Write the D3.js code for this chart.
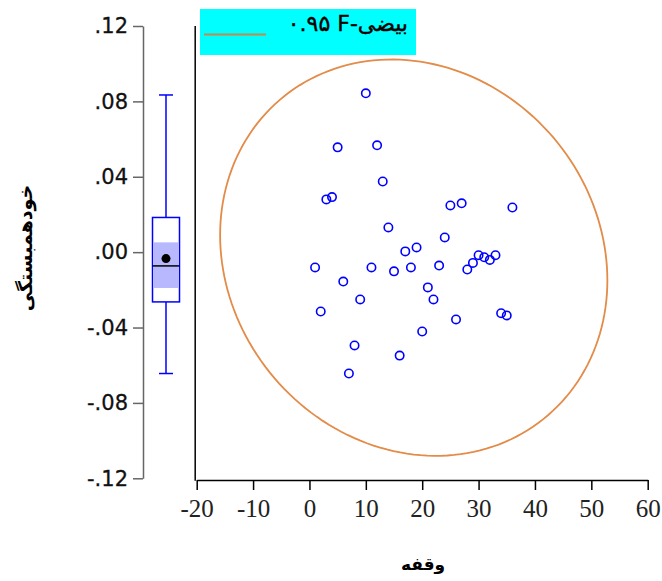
<!DOCTYPE html>
<html><head><meta charset="utf-8">
<script src="https://cdn.jsdelivr.net/npm/d3@7"></script>
<style>body{margin:0;background:#fff}svg{display:block}</style>
</head><body>
<script>
// ---- data ----
const lags = [1,2,3,4,5,6,7,8,9,10,11,12,13,14,15,16,17,18,19,20,21,22,23,24,25,26,27,28,29,30,31,32,33,34,35,36];
const acf = [-0.0081,-0.0315,0.0280,0.0292,0.0556,-0.0156,-0.0644,-0.0495,-0.0251,0.0843,
             -0.0081,0.0567,0.0375,0.0131,-0.0102,-0.0549,0.0004,-0.0081,0.0025,-0.0421,
             -0.0187,-0.0251,-0.0071,0.0078,0.0248,-0.0357,0.0259,-0.0092,-0.0057,-0.0016,
             -0.0027,-0.0041,-0.0016,-0.0324,-0.0336,0.0237];
const boxKeys = ["min","q1","median","q3","max","mean","ciLow","ciHigh"];
const boxVals = [-0.0644,-0.0264,-0.0073,0.0184,0.0834,-0.0034,-0.0190,0.0052];
const yTicks = [-0.12,-0.08,-0.04,0,0.04,0.08,0.12];
const yTickLabels = ["-.12","-.08","-.04",".00",".04",".08",".12"];
const xTicks = [-20,-10,0,10,20,30,40,50,60];
const xTickLabels = ["-20","-10","0","10","20","30","40","50","60"];
const ellipseScale = 3.26;
const legendLabel = "بیضی-F\u200F ۰.۹۵";
const xTitle = "وقفه";
const yTitle = "خودهمبستگی";

const W = 662, H = 581;
const svg = d3.select("body").append("svg").attr("width", W).attr("height", H);

const y = d3.scaleLinear().domain([-0.12, 0.12]).range([478.3, 26]);
const x = d3.scaleLinear().domain([-20, 60]).range([196.7, 647.7]);

const orange = "#e38b48";
const blue = "#0000ff";

// ---- box plot axis ----
const yAxis = d3.axisLeft(y).tickValues(yTicks)
  .tickFormat((d,i) => yTickLabels[i]).tickSize(10).tickSizeOuter(0).tickPadding(5);
const gy = svg.append("g").attr("transform", "translate(143,0)").call(yAxis);
gy.selectAll("path,line").attr("stroke", "#666").attr("stroke-width", 1.5);
gy.selectAll("text").attr("font-family", "DejaVu Sans").attr("font-size", 21).attr("fill", "#111")
  .attr("stroke", "#111").attr("stroke-width", 0.3);

// ---- box plot ----
const b = {}; boxKeys.forEach((k,i) => b[k] = boxVals[i]);
const bx = 166, bw = 27, cw = 14;
const gb = svg.append("g");
gb.append("line").attr("x1", bx).attr("x2", bx).attr("y1", y(b.max)).attr("y2", y(b.q3)).attr("stroke", blue).attr("stroke-width", 1.5);
gb.append("line").attr("x1", bx).attr("x2", bx).attr("y1", y(b.q1)).attr("y2", y(b.min)).attr("stroke", blue).attr("stroke-width", 1.5);
gb.append("line").attr("x1", bx-cw/2).attr("x2", bx+cw/2).attr("y1", y(b.max)).attr("y2", y(b.max)).attr("stroke", blue).attr("stroke-width", 1.5);
gb.append("line").attr("x1", bx-cw/2).attr("x2", bx+cw/2).attr("y1", y(b.min)).attr("y2", y(b.min)).attr("stroke", blue).attr("stroke-width", 1.5);
gb.append("rect").attr("x", bx-bw/2).attr("y", y(b.q3)).attr("width", bw).attr("height", y(b.q1)-y(b.q3))
  .attr("fill", "#fff").attr("stroke", blue).attr("stroke-width", 1.5);
gb.append("rect").attr("x", bx-bw/2+1).attr("y", y(b.ciHigh)).attr("width", bw-2).attr("height", y(b.ciLow)-y(b.ciHigh))
  .attr("fill", "#b8b8ff");
gb.append("line").attr("x1", bx-bw/2).attr("x2", bx+bw/2).attr("y1", y(b.median)).attr("y2", y(b.median)).attr("stroke", "#000").attr("stroke-width", 1.5);
gb.append("circle").attr("cx", bx).attr("cy", y(b.mean)).attr("r", 4.5).attr("fill", "#000");

// ---- main axes ----
const xAxis = d3.axisBottom(x).tickValues(xTicks).tickFormat((d,i) => xTickLabels[i])
  .tickSize(10).tickSizeOuter(0).tickPadding(9);
const gx = svg.append("g").attr("transform", "translate(0,480)").call(xAxis);
gx.selectAll("path,line").attr("stroke", "#000").attr("stroke-width", 1.5);
gx.selectAll("text").attr("font-family", "Liberation Serif").attr("font-size", 25).attr("fill", "#222");
svg.append("line").attr("x1", x(-20)-1.5).attr("x2", x(-20)-1.5).attr("y1", y(0.12)).attr("y2", 480.7)
  .attr("stroke", "#000").attr("stroke-width", 1.5);

// ---- ellipse (derived from data) ----
const mx = d3.mean(lags), my = d3.mean(acf);
const sx = d3.deviation(lags), sy = d3.deviation(acf);
const cov = d3.sum(lags.map((l,i) => (l-mx)*(acf[i]-my))) / (lags.length-1);
const r = cov / (sx*sy);
const angles = d3.range(0, 361, 2).map(a => a*Math.PI/180);
const ell = angles.map(t => [mx + ellipseScale*sx*Math.cos(t),
  my + ellipseScale*sy*(r*Math.cos(t) + Math.sqrt(1-r*r)*Math.sin(t))]);
svg.append("path").datum(ell)
  .attr("d", d3.line().x(d => x(d[0])).y(d => y(d[1])))
  .attr("fill", "none").attr("stroke", orange).attr("stroke-width", 1.8);

// ---- points ----
svg.append("g").selectAll("circle").data(lags).join("circle")
  .attr("cx", d => x(d)).attr("cy", (d,i) => y(acf[i])).attr("r", 4.2)
  .attr("fill", "none").attr("stroke", blue).attr("stroke-width", 1.6);

// ---- legend ----
svg.append("rect").attr("x", 200).attr("y", 9).attr("width", 216).attr("height", 46).attr("fill", "#00ffff");
svg.append("line").attr("x1", 204).attr("x2", 266).attr("y1", 34.5).attr("y2", 34.5).attr("stroke", "#c8884a").attr("stroke-width", 1.8);
svg.append("text").attr("x", 408).attr("y", 31).attr("direction", "rtl").attr("text-anchor", "start")
  .attr("font-family", "DejaVu Sans").attr("font-size", 22).attr("fill", "#000")
  .attr("stroke", "#000").attr("stroke-width", 0.4)
  .text(legendLabel);

// ---- titles ----
svg.append("text").attr("x", 423).attr("y", 570).attr("text-anchor", "middle")
  .attr("font-family", "DejaVu Sans").attr("font-weight", "bold").attr("font-size", 17).attr("fill", "#000")
  .text(xTitle);
svg.append("text").attr("transform", "translate(32,248) rotate(-90)").attr("text-anchor", "middle")
  .attr("font-family", "DejaVu Sans").attr("font-weight", "bold").attr("font-size", 19).attr("fill", "#000")
  .text(yTitle);
</script>
</body></html>
